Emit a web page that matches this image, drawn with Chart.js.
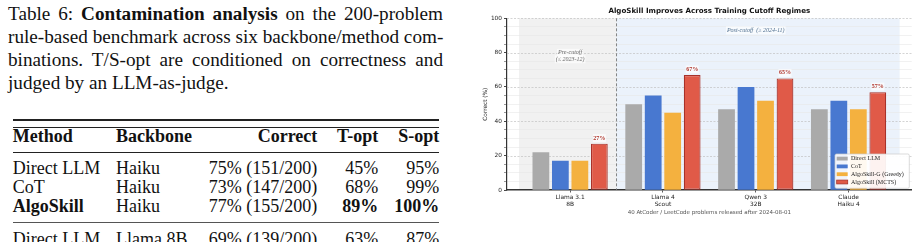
<!DOCTYPE html>
<html lang="en">
  <head>
    <meta charset="UTF-8" />
    <title>Contamination analysis</title>
    <script src="https://cdn.jsdelivr.net/npm/chart.js"></script>
    <style>
      body {
        margin: 0;
        width: 918px;
        height: 242px;
        overflow: hidden;
        position: relative;
        background: #fff;
        font-family: "Liberation Serif", serif;
        color: #111;
      }
      #caption {
        position: absolute;
        left: 8px;
        top: 3px;
        width: 435px;
        font-size: 19.2px;
      }
      .ln {
        height: 22.9px;
        line-height: 22.9px;
        white-space: nowrap;
        text-align: justify;
        text-align-last: justify;
      }
      .ln.last {
        text-align-last: left;
      }
      .rule {
        position: absolute;
        left: 12.7px;
        width: 426.6px;
        background: #222;
      }
      .row {
        position: absolute;
        left: 0;
        width: 470px;
        height: 18px;
        line-height: 18px;
        font-size: 18px;
        white-space: nowrap;
      }
      .row span {
        position: absolute;
        top: 0;
      }
      .c1 { left: 12.7px; }
      .c2 { left: 116px; }
      .c3 { right: 152.7px; }
      .c4 { right: 91.7px; }
      .c5 { right: 30.7px; }
      #chartBox {
        position: absolute;
        left: 470px;
        top: 0;
      }
    </style>
  </head>
  <body>
    <div id="caption">
      <div class="ln">Table 6: <b>Contamination analysis</b> on the 200-problem</div>
      <div class="ln">rule-based benchmark across six backbone/method com-</div>
      <div class="ln">binations. T/S-opt are conditioned on correctness and</div>
      <div class="ln last">judged by an LLM-as-judge.</div>
    </div>

    <div class="rule" style="top: 119.4px; height: 1.3px"></div>
    <div class="rule" style="top: 127.3px; height: 0.8px"></div>
    <div class="row" style="top: 127px; font-weight: bold">
      <span class="c1">Method</span><span class="c2">Backbone</span
      ><span class="c3">Correct</span><span class="c4">T-opt</span
      ><span class="c5">S-opt</span>
    </div>
    <div class="rule" style="top: 152.3px; height: 0.8px"></div>
    <div class="row" style="top: 159px">
      <span class="c1">Direct LLM</span><span class="c2">Haiku</span
      ><span class="c3">75% (151/200)</span><span class="c4">45%</span
      ><span class="c5">95%</span>
    </div>
    <div class="row" style="top: 178.2px">
      <span class="c1">CoT</span><span class="c2">Haiku</span
      ><span class="c3">73% (147/200)</span><span class="c4">68%</span
      ><span class="c5">99%</span>
    </div>
    <div class="row" style="top: 197.4px">
      <span class="c1"><b>AlgoSkill</b></span><span class="c2">Haiku</span
      ><span class="c3">77% (155/200)</span><span class="c4"><b>89%</b></span
      ><span class="c5"><b>100%</b></span>
    </div>
    <div class="rule" style="top: 222.3px; height: 0.8px; background: #555"></div>
    <div class="row" style="top: 230px">
      <span class="c1">Direct LLM</span><span class="c2">Llama 8B</span
      ><span class="c3">69% (139/200)</span><span class="c4">63%</span
      ><span class="c5">87%</span>
    </div>

    <div id="chartBox">
      <canvas id="cutoffChart" width="448" height="242"></canvas>
    </div>

    <script>
      // chart values
      const categories = [
        ["Llama 3.1", "8B"],
        ["Llama 4", "Scout"],
        ["Qwen 3", "32B"],
        ["Claude", "Haiku 4"],
      ];
      const seriesNames = ["Direct LLM", "CoT", "AlgoSkill-G (Greedy)", "AlgoSkill (MCTS)"];
      const directLLM = [22, 50, 47, 47];
      const cot = [17, 55, 60, 52];
      const greedy = [17, 45, 52, 47];
      const mcts = [27, 67, 65, 57];
      const majorYTicks = [0, 20, 40, 60, 80, 100];

      const SANS = "'DejaVu Sans', sans-serif";
      const SERIF = "'Liberation Serif', serif";
      const colors = ["#aaaaaa", "#4878d0", "#f4b13f", "#e05a48"];
      const redEdge = "#a8322a";

      const series = [directLLM, cot, greedy, mcts];
      const datasets = series.map((vals, k) => ({
        label: seriesNames[k],
        data: vals.map((v, i) => ({ x: i, y: v })),
        backgroundColor: colors[k],
        borderColor: k === 3 ? redEdge : colors[k],
        borderWidth: k === 3 ? 1.2 : 0,
        borderSkipped: false,
      }));

      // little helper for text with a pale box behind it
      function boxedText(ctx, text, x, y, font, color, pad) {
        ctx.font = font;
        const w = ctx.measureText(text).width;
        ctx.fillStyle = "rgba(255,255,255,0.65)";
        ctx.fillRect(x - w / 2 - pad, y - 4, w + 2 * pad, 8);
        ctx.fillStyle = color;
        ctx.fillText(text, x, y);
      }

      const regimePlugin = {
        id: "regimes",
        beforeDraw(chart) {
          const { ctx, chartArea: a, scales } = chart;
          const x = scales.x;
          ctx.save();
          const x0 = x.getPixelForValue(-0.55);
          const x1 = x.getPixelForValue(0.5);
          const x2 = x.getPixelForValue(3.55);
          ctx.fillStyle = "#f1f1f1";
          ctx.fillRect(x0, a.top, x1 - x0, a.bottom - a.top);
          ctx.fillStyle = "#ebf2fb";
          ctx.fillRect(x1, a.top, x2 - x1, a.bottom - a.top);
          ctx.restore();
        },
        beforeDatasetsDraw(chart) {
          const { ctx, chartArea: a, scales } = chart;
          const { x, y } = scales;
          ctx.save();
          // major dashed gridlines
          ctx.strokeStyle = "#c2c2c2";
          ctx.lineWidth = 0.7;
          ctx.setLineDash([2, 1.5]);
          majorYTicks.forEach((v) => {
            if (v === 0) return;
            const py = Math.round(y.getPixelForValue(v)) + 0.5;
            ctx.beginPath();
            ctx.moveTo(a.left, py);
            ctx.lineTo(a.right, py);
            ctx.stroke();
          });
          // cutoff separator
          const sx = x.getPixelForValue(0.5);
          ctx.strokeStyle = "#777";
          ctx.lineWidth = 0.9;
          ctx.setLineDash([3, 2]);
          ctx.beginPath();
          ctx.moveTo(sx, a.top);
          ctx.lineTo(sx, a.bottom);
          ctx.stroke();
          ctx.setLineDash([]);

          ctx.textAlign = "center";
          ctx.textBaseline = "middle";
          const itf = "italic 6px " + SERIF;
          const px = x.getPixelForValue(0);
          const py = y.getPixelForValue(78);
          boxedText(ctx, "Pre-cutoff", px, py - 3.2, itf, "#666", 1);
          boxedText(ctx, "(\u2264 2023-12)", px, py + 3.2, itf, "#666", 1);
          boxedText(
            ctx,
            "Post-cutoff  (\u2265 2024-11)",
            x.getPixelForValue(2),
            y.getPixelForValue(93),
            itf,
            "#4f6f8f",
            1
          );
          ctx.restore();
        },
        afterDatasetsDraw(chart) {
          const { ctx } = chart;
          const meta = chart.getDatasetMeta(3);
          ctx.save();
          ctx.textAlign = "center";
          ctx.textBaseline = "middle";
          meta.data.forEach((bar, i) => {
            boxedText(ctx, mcts[i] + "%", bar.x, bar.y - 5.5, "bold 6px " + SERIF, "#b0352b", 0.5);
          });
          ctx.restore();
        },
        afterDraw(chart) {
          const { ctx, chartArea: a } = chart;
          const w = 74.3;
          const h = 34.3;
          const lx = a.right - 2.4 - w;
          const ly = a.bottom - 1.7 - h;
          ctx.save();
          ctx.fillStyle = "rgba(255,255,255,0.92)";
          ctx.strokeStyle = "#cccccc";
          ctx.lineWidth = 0.7;
          ctx.beginPath();
          ctx.roundRect(lx, ly, w, h, 1.5);
          ctx.fill();
          ctx.stroke();
          ctx.font = "6px " + SERIF;
          ctx.textBaseline = "middle";
          ctx.textAlign = "left";
          chart.data.datasets.forEach((ds, k) => {
            const cy = ly + 4.6 + k * 7.8;
            ctx.fillStyle = ds.backgroundColor;
            ctx.fillRect(lx + 1.7, cy - 1.9, 11, 3.8);
            if (ds.borderWidth) {
              ctx.strokeStyle = ds.borderColor;
              ctx.lineWidth = 0.8;
              ctx.strokeRect(lx + 1.7, cy - 1.9, 11, 3.8);
            }
            ctx.fillStyle = "#222";
            ctx.fillText(ds.label, lx + 16, cy + 0.3);
          });
          ctx.restore();
        },
      };

      new Chart(document.getElementById("cutoffChart"), {
        type: "bar",
        data: { datasets: datasets },
        plugins: [regimePlugin],
        options: {
          responsive: false,
          animation: false,
          devicePixelRatio: 1,
          layout: { padding: { top: 0, right: 6.3, left: 0, bottom: 0 } },
          datasets: {
            bar: { categoryPercentage: 0.84, barPercentage: 0.86 },
          },
          scales: {
            x: {
              type: "linear",
              min: -0.68,
              max: 3.68,
              offset: false,
              z: 1,
              afterBuildTicks: (axis) => {
                axis.ticks = categories.map((c, i) => ({ value: i }));
              },
              afterFit: (s) => {
                s.height = 52;
              },
              ticks: {
                autoSkip: false,
                maxRotation: 0,
                padding: 1,
                color: "#222",
                font: { family: SANS, size: 5.9, lineHeight: 1.25 },
                callback: (v, i) => categories[i],
              },
              grid: {
                offset: false,
                drawOnChartArea: false,
                tickLength: 2.5,
                tickColor: "#333",
                tickWidth: 0.8,
              },
              border: { color: "#333", width: 1.5 },
              title: {
                display: true,
                text: "40 AtCoder / LeetCode problems released after 2024-08-01",
                color: "#555",
                font: { family: SANS, size: 5.5 },
                padding: { top: 0, bottom: 26.4 },
              },
            },
            y: {
              min: 0,
              max: 100,
              afterFit: (s) => {
                s.width = 37;
              },
              ticks: {
                stepSize: 5,
                autoSkip: false,
                padding: 2,
                color: "#222",
                font: { family: SANS, size: 5.8 },
                callback: (v) => (majorYTicks.includes(v) ? v : ""),
              },
              grid: {
                color: (c) => (c.tick && c.tick.value % 20 === 0 ? "rgba(0,0,0,0)" : "#e8e8e8"),
                lineWidth: 0.6,
                tickLength: 3,
                tickColor: "#333",
                tickWidth: (c) => (c.tick && c.tick.value % 20 === 0 ? 0.9 : 0.5),
              },
              border: { color: "#333", width: 1.2 },
              title: {
                display: true,
                text: "Correct (%)",
                color: "#222",
                font: { family: SANS, size: 5.8 },
                padding: { top: 12.2, bottom: 0 },
              },
            },
          },
          plugins: {
            legend: { display: false },
            tooltip: { enabled: false },
            title: {
              display: true,
              fullSize: false,
              text: "AlgoSkill Improves Across Training Cutoff Regimes",
              color: "#111",
              font: { family: SANS, size: 7.1, weight: "bold" },
              padding: { top: 6.9, bottom: 2.9 },
            },
          },
        },
      });
    </script>
  </body>
</html>
